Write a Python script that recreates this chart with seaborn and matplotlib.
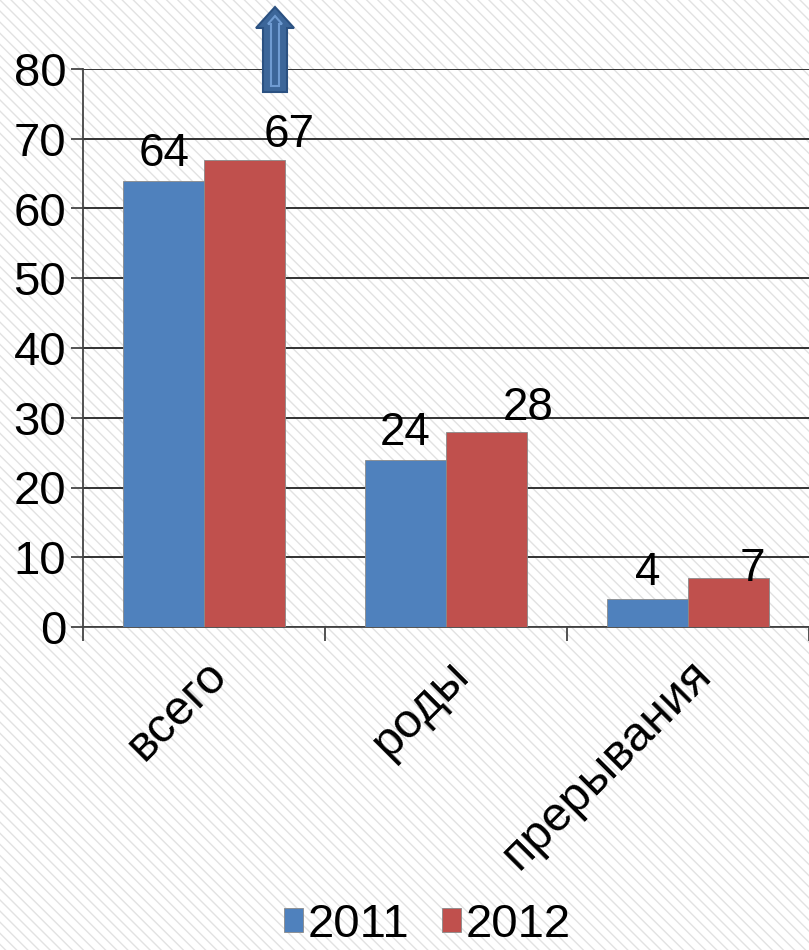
import pandas as pd
import matplotlib.pyplot as plt
import seaborn as sns
from matplotlib.patches import Rectangle, FancyArrow
from matplotlib.ticker import FixedLocator

sns.set_theme(style="white")
plt.rcParams['font.family'] = ['Liberation Sans', 'DejaVu Sans']
plt.rcParams['text.color'] = 'black'
plt.rcParams['hatch.color'] = '#e2e2e2'
plt.rcParams['hatch.linewidth'] = 1.0

# data
categories = ['всего', 'роды', 'прерывания']
years = ['2011', '2012']
v2011 = [64, 24, 4]
v2012 = [67, 28, 7]
colors = ['#4F81BD', '#C0504D']

df = pd.DataFrame({
    'cat': categories * 2,
    'year': ['2011'] * 3 + ['2012'] * 3,
    'val': v2011 + v2012,
})

fig = plt.figure(figsize=(8.09, 9.5), dpi=100)
# faint diagonal background hatch
fig.patches.append(Rectangle((0, 0), 1, 1, transform=fig.transFigure,
                             facecolor='white', edgecolor='#e2e2e2',
                             hatch='\\\\\\', lw=0, zorder=-10))

ax = fig.add_axes([83 / 809, 323 / 950, 726 / 809, 558 / 950])
ax.set_facecolor('none')

sns.barplot(data=df, x='cat', y='val', hue='year', order=categories,
            hue_order=years, palette=colors,
            width=0.667, gap=0, saturation=1, ax=ax,
            edgecolor='#8a8a8a', linewidth=0.6, zorder=3)

ax.set_xlim(-0.5, 2.5)
ax.set_ylim(0, 80)
ax.set_yticks(range(0, 81, 10))
ax.yaxis.grid(True, color='#222222', lw=1.3, zorder=0)
ax.set_axisbelow(True)
ax.set_xlabel('')
ax.set_ylabel('')
for s in ['top', 'right']:
    ax.spines[s].set_visible(False)
for s in ['left', 'bottom']:
    ax.spines[s].set_color('#444444')
    ax.spines[s].set_linewidth(1.3)

ax.tick_params(axis='y', labelsize=34, length=9, width=1.3, color='#444444',
               direction='out', left=True, pad=3, labelcolor='black')
ax.xaxis.set_minor_locator(FixedLocator([-0.5, 0.5, 1.5, 2.5]))
ax.tick_params(axis='x', which='minor', length=10, width=1.3, color='#444444',
               direction='out', bottom=True)
ax.tick_params(axis='x', which='major', length=0, labelsize=35, pad=18,
               labelcolor='black')
for lbl in ax.get_xticklabels():
    lbl.set_rotation(45)
    lbl.set_ha('right')
    lbl.set_va('top')
    lbl.set_rotation_mode('anchor')

# value labels (offsets in points, as placed in the original)
label_dx = [[0, 0, 0], [32, 30, 17]]
label_dy = [[3, 3, 3], [2, 1, -9]]
for cont, dxs, dys in zip(ax.containers, label_dx, label_dy):
    for rect, dx, dy in zip(cont, dxs, dys):
        h = rect.get_height()
        ax.annotate(f'{int(h)}', (rect.get_x() + rect.get_width() / 2, h),
                    xytext=(dx, dy), textcoords='offset points',
                    ha='center', va='bottom', fontsize=33, color='black',
                    zorder=5)

ax.legend_.remove()
handles = [Rectangle((0, 0), 1, 1, facecolor=c, edgecolor='#8a8a8a', lw=0.6)
           for c in colors]
fig.legend(handles, years, loc='lower center', bbox_to_anchor=(0.528, 0.003),
           ncol=2, frameon=False, fontsize=34, handlelength=0.4,
           handleheight=0.4, handletextpad=0.1, columnspacing=0.7,
           borderaxespad=0, borderpad=0, labelcolor='black')

# decorative arrow
fig.patches.append(FancyArrow(275 / 809, 1 - 92 / 950, 0, (92 - 7) / 950,
                              width=24 / 809, head_width=38 / 809,
                              head_length=21 / 950, length_includes_head=True,
                              transform=fig.transFigure, facecolor='#3C6699',
                              edgecolor='#2B5181', lw=1.5, zorder=10))
fig.patches.append(FancyArrow(275 / 809, 1 - 86 / 950, 0, (86 - 16) / 950,
                              width=8 / 809, head_width=14 / 809,
                              head_length=8 / 950, length_includes_head=True,
                              transform=fig.transFigure, facecolor='#3C6699',
                              edgecolor='#6F9BD1', lw=1.5, zorder=11))

fig.savefig('out.png', dpi=100)
